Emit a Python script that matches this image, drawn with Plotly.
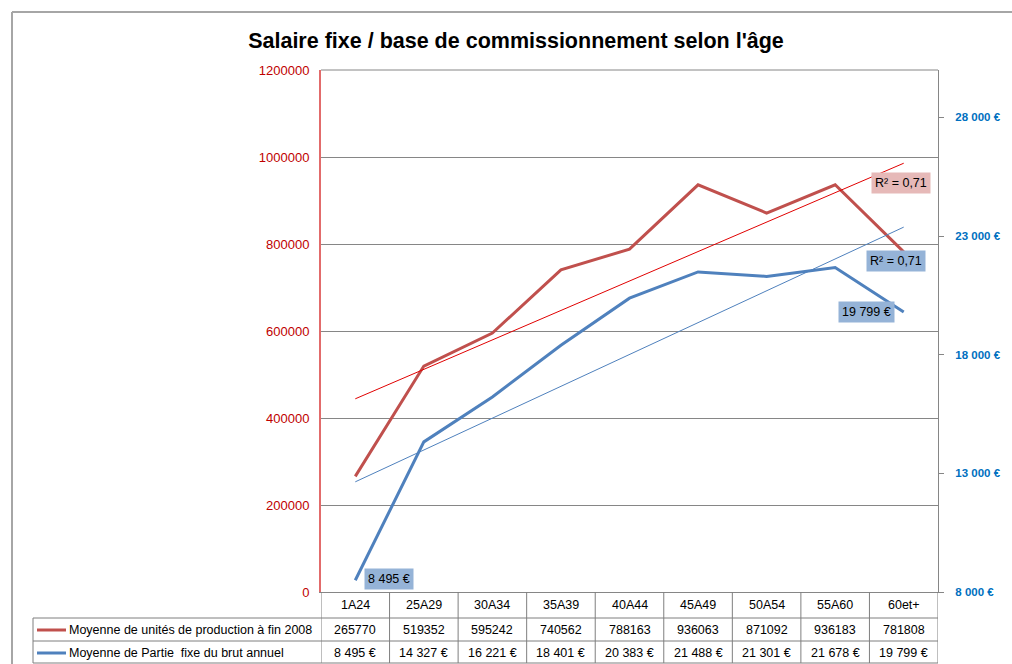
import numpy as np
import plotly.graph_objects as go

# ---------------- data ----------------
categories = ["1A24", "25A29", "30A34", "35A39", "40A44", "45A49", "50A54", "55A60", "60et+"]
unites = [265770, 519352, 595242, 740562, 788163, 936063, 871092, 936183, 781808]
salaire = [8495, 14327, 16221, 18401, 20383, 21488, 21301, 21678, 19799]
series_names = ["Moyenne de unités de production à fin 2008",
                "Moyenne de Partie  fixe du brut annuel"]
left_ticks = [0, 200000, 400000, 600000, 800000, 1000000, 1200000]
right_ticks = [8000, 13000, 18000, 23000, 28000]
title_text = "Salaire fixe / base de commissionnement selon l'âge"


def eur(v):
    return f"{v:,}".replace(",", " ") + " €"


def fit(vals):
    x = np.arange(1, len(vals) + 1)
    a, b = np.polyfit(x, vals, 1)
    yhat = a * x + b
    r2 = 1 - np.sum((np.array(vals) - yhat) ** 2) / np.sum((np.array(vals) - np.mean(vals)) ** 2)
    return yhat, r2


red_fit, red_r2 = fit(unites)
blue_fit, blue_r2 = fit(salaire)

# ---------------- geometry ----------------
W, H = 1012, 664
L, R, T, B = 321, 938, 70, 592


def px(x):
    return (x - L) / (R - L)


def py(y):
    return (B - y) / (B - T)


FONT = "Liberation Sans, Arial, sans-serif"
RED = "#c0504d"
BLUE = "#4f81bd"
GRID = "#868686"

xs = list(range(len(categories)))

fig = go.Figure()
fig.add_trace(go.Scatter(x=xs, y=unites, mode="lines", line=dict(color=RED, width=3),
                         name=series_names[0], yaxis="y"))
fig.add_trace(go.Scatter(x=xs, y=salaire, mode="lines", line=dict(color=BLUE, width=3),
                         name=series_names[1], yaxis="y2"))
fig.add_trace(go.Scatter(x=xs, y=red_fit, mode="lines", line=dict(color="#e00000", width=1),
                         yaxis="y", showlegend=False))
fig.add_trace(go.Scatter(x=xs, y=blue_fit, mode="lines", line=dict(color=BLUE, width=1),
                         yaxis="y2", showlegend=False))

ann = []
shapes = []


def r2txt(r):
    return "R² = " + f"{r:.2f}".replace(".", ",")


lf = dict(family=FONT, size=12.5, color="black")
ann.append(dict(x=xs[-1], y=red_fit[-1], xref="x", yref="y", text=r2txt(red_r2),
                showarrow=False, xshift=-3, yshift=-20, bgcolor="#e6b9b8",
                font=lf, borderpad=3))
ann.append(dict(x=xs[-1], y=blue_fit[-1], xref="x", yref="y2", text=r2txt(blue_r2),
                showarrow=False, xshift=-8, yshift=-34, bgcolor="#95b3d7",
                font=lf, borderpad=3))
ann.append(dict(x=xs[-1], y=salaire[-1], xref="x", yref="y2", text=eur(salaire[-1]),
                showarrow=False, xanchor="right", xshift=-9, bgcolor="#95b3d7",
                font=lf, borderpad=3))
ann.append(dict(x=xs[0], y=salaire[0], xref="x", yref="y2", text=eur(salaire[0]),
                showarrow=False, xanchor="left", xshift=9, yshift=1, bgcolor="#95b3d7",
                font=lf, borderpad=3))

# ---------------- data table ----------------
tf = dict(family=FONT, size=12.5, color="black")
for i, c in enumerate(categories):
    ann.append(dict(x=i, y=py(605), xref="x", yref="paper", text=c, showarrow=False,
                    yanchor="middle", font=tf))
    ann.append(dict(x=i, y=py(630), xref="x", yref="paper", text=str(unites[i]),
                    showarrow=False, yanchor="middle", font=tf))
    ann.append(dict(x=i, y=py(653), xref="x", yref="paper", text=eur(salaire[i]),
                    showarrow=False, yanchor="middle", font=tf))
for k, yy in enumerate([630, 653]):
    ann.append(dict(x=px(67), y=py(yy), xref="paper", yref="paper", text=series_names[k],
                    xanchor="left", yanchor="middle", showarrow=False, font=tf))
    shapes.append(dict(type="line", xref="paper", yref="paper", x0=px(37), x1=px(66),
                       y0=py(yy), y1=py(yy), line=dict(color=[RED, BLUE][k], width=3)))

TL = "#7f7f7f"
for i in range(len(categories) + 1):
    shapes.append(dict(type="line", xref="x", yref="paper", x0=i - 0.5, x1=i - 0.5,
                       y0=py(592), y1=py(663), line=dict(color=TL, width=1)))
for yy in [618, 641, 663]:
    shapes.append(dict(type="line", xref="paper", yref="paper", x0=px(33), x1=1,
                       y0=py(yy), y1=py(yy), line=dict(color=TL, width=1)))
shapes.append(dict(type="line", xref="paper", yref="paper", x0=px(33), x1=px(33),
                   y0=py(618), y1=py(663), line=dict(color=TL, width=1)))
# plot area top border
shapes.append(dict(type="line", xref="paper", yref="paper", x0=0, x1=1, y0=1, y1=1,
                   line=dict(color=GRID, width=1)))
# chart outer border
shapes.append(dict(type="line", xref="paper", yref="paper", x0=px(12), x1=px(1015),
                   y0=py(12), y1=py(12), line=dict(color="#a6a6a6", width=2)))
shapes.append(dict(type="line", xref="paper", yref="paper", x0=px(12), x1=px(12),
                   y0=py(12), y1=py(670), line=dict(color="#a6a6a6", width=2)))

fig.update_layout(
    width=W, height=H, autosize=False,
    margin=dict(l=L, r=W - R, t=T, b=H - B, pad=0),
    paper_bgcolor="white", plot_bgcolor="white",
    showlegend=False,
    title=dict(text=f"<b>{title_text}</b>", x=516 / W, xanchor="center", xref="container",
               y=1 - 40 / H, yanchor="middle", yref="container",
               font=dict(family=FONT, size=21.5, color="black")),
    xaxis=dict(range=[-0.5, len(categories) - 0.5], showgrid=False, zeroline=False,
               showticklabels=False, showline=True, linecolor=GRID, linewidth=1),
    yaxis=dict(range=[0, 1200000], tickvals=left_ticks, tickformat="d",
               tickfont=dict(family=FONT, size=13, color="#c00000"),
               gridcolor=GRID, gridwidth=1, zeroline=False, showline=True,
               linecolor="rgb(226,107,107)", linewidth=2, ticks="", ticklabelstandoff=7),
    yaxis2=dict(range=[8000, 30000], tickvals=right_ticks, ticktext=[eur(v) for v in right_ticks],
                overlaying="y", side="right", showgrid=False, zeroline=False,
                showline=True, linecolor=GRID, linewidth=1, ticks="outside", ticklen=5,
                tickcolor=GRID, ticklabelstandoff=9,
                tickfont=dict(family=FONT, size=11.5, color="#0070c0", weight="bold")),
    annotations=ann, shapes=shapes,
)

fig.write_html("out.html", config={"displayModeBar": False},
               post_script="document.body.style.margin='0';document.body.style.overflow='hidden';")
